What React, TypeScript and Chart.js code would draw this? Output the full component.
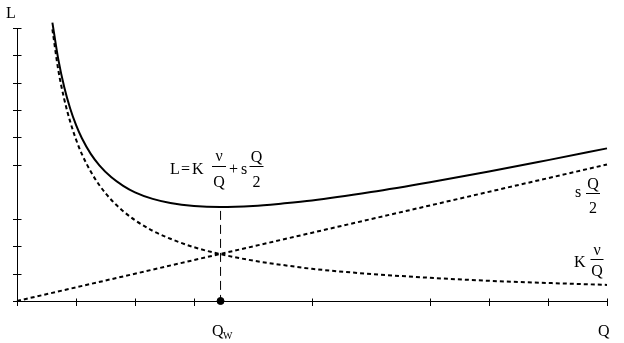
import React, { useEffect, useRef } from 'react';
import { Chart, registerables } from 'chart.js';

Chart.register(...registerables);

// Order quantity Q (x axis, arbitrary units 0..10)
const quantities = [0.6, 0.7, 0.8, 0.9, 1.0, 1.1, 1.25, 1.4, 1.6, 1.8, 2.0, 2.3, 2.6, 3.0, 3.44, 4.0, 4.5, 5.0, 6.0, 7.0, 8.0, 9.0, 10.0];
// K·ν/Q  (ordering cost, dotted hyperbola)
const orderingCost = [9.95, 8.46, 7.4, 6.58, 5.92, 5.38, 4.74, 4.23, 3.7, 3.29, 2.96, 2.57, 2.28, 1.97, 1.72, 1.48, 1.32, 1.18, 0.99, 0.85, 0.74, 0.66, 0.59];
// L = K·ν/Q + s·Q/2 (total cost, solid)
const totalCost = [10.2, 8.85, 7.84, 7.06, 6.45, 5.96, 5.39, 4.96, 4.53, 4.22, 3.98, 3.74, 3.59, 3.48, 3.44, 3.48, 3.57, 3.68, 3.99, 4.35, 4.74, 5.16, 5.59];
// s·Q/2 (holding cost, dotted straight line)
const holdingQ = [0, 10];
const holdingCost = [0, 5];
// optimum order quantity Q_w
const optimumQ = [3.45, 3.45];
const optimumGuide = [3.3, 0];
// axis tick values
const xTickValues = [0, 1, 2, 3, 5, 7, 8, 9, 10];
const yTickValues = [0, 1, 2, 3, 5, 6, 7, 8, 9, 10];

const SERIF = '"Liberation Serif", "DejaVu Serif", serif';

const axesPlugin = {
  id: 'eoqAxes',
  beforeDatasetsDraw(chart: any) {
    const { ctx, scales } = chart;
    const xs = scales.x;
    const ys = scales.y;
    const x0 = Math.round(xs.getPixelForValue(0)) + 0.5;
    const x1 = xs.getPixelForValue(10);
    const y0 = Math.round(ys.getPixelForValue(0)) + 0.5;
    const y1 = ys.getPixelForValue(10);
    ctx.save();
    ctx.strokeStyle = '#000';
    ctx.lineWidth = 1;
    ctx.beginPath();
    ctx.moveTo(x0, y0);
    ctx.lineTo(x1, y0);
    ctx.moveTo(x0, y0);
    ctx.lineTo(x0, y1);
    for (const v of xTickValues) {
      const px = Math.round(xs.getPixelForValue(v)) + 0.5;
      ctx.moveTo(px, y0 - 3);
      ctx.lineTo(px, y0 + 4.5);
    }
    for (const v of yTickValues) {
      const py = Math.round(ys.getPixelForValue(v)) + 0.5;
      ctx.moveTo(x0 - 4.5, py);
      ctx.lineTo(x0 + (v === 0 ? 0 : 4), py);
    }
    ctx.stroke();
    ctx.restore();
  },
};

function fraction(ctx: CanvasRenderingContext2D, top: string, bottom: string, cx: number, barY: number, half: number, topBase: number, botBase: number) {
  ctx.textAlign = 'center';
  ctx.fillText(top, cx, topBase);
  ctx.fillText(bottom, cx, botBase);
  ctx.beginPath();
  ctx.moveTo(cx - half, barY + 0.5);
  ctx.lineTo(cx + half, barY + 0.5);
  ctx.stroke();
  ctx.textAlign = 'left';
}

const labelsPlugin = {
  id: 'eoqLabels',
  afterDraw(chart: any) {
    const { ctx } = chart;
    ctx.save();
    ctx.fillStyle = '#000';
    ctx.strokeStyle = '#000';
    ctx.lineWidth = 1;
    ctx.textBaseline = 'alphabetic';
    ctx.textAlign = 'left';
    ctx.font = `16px ${SERIF}`;
    // axis titles
    ctx.fillText('L', 6, 18);
    ctx.fillText('Q', 598, 336);
    ctx.fillText('Q', 212, 336);
    ctx.font = `10px ${SERIF}`;
    ctx.fillText('W', 223, 339);
    // main formula
    ctx.font = `16px ${SERIF}`;
    ctx.fillText('L', 170, 174);
    ctx.fillText('=', 181, 174);
    ctx.fillText('K', 192, 174);
    fraction(ctx, 'ν', 'Q', 219, 166, 7, 161, 187);
    ctx.fillText('+', 229, 174);
    ctx.fillText('s', 241, 174);
    fraction(ctx, 'Q', '2', 256.5, 166, 7, 162, 187);
    // s Q/2 label
    ctx.fillText('s', 575, 197);
    fraction(ctx, 'Q', '2', 593, 193, 7, 189, 213);
    // K ν/Q label
    ctx.fillText('K', 574, 267);
    fraction(ctx, 'ν', 'Q', 597, 259, 6.5, 255, 276);
    ctx.restore();
  },
};

export default function App() {
  const canvasRef = useRef<HTMLCanvasElement | null>(null);

  useEffect(() => {
    const canvas = canvasRef.current;
    if (!canvas) return;
    const pts = (xs: number[], ys: number[]) => xs.map((x, i) => ({ x, y: ys[i] }));
    const chart = new Chart(canvas, {
      type: 'line',
      data: {
        datasets: [
          {
            label: 'L',
            data: pts(quantities, totalCost),
            borderColor: '#000',
            borderWidth: 2,
            pointRadius: 0,
            cubicInterpolationMode: 'monotone',
            clip: false,
          } as any,
          {
            label: 'Kν/Q',
            data: pts(quantities, orderingCost),
            borderColor: '#000',
            borderWidth: 2,
            borderDash: [4, 3],
            pointRadius: 0,
            cubicInterpolationMode: 'monotone',
            clip: false,
          } as any,
          {
            label: 'sQ/2',
            data: pts(holdingQ, holdingCost),
            borderColor: '#000',
            borderWidth: 2,
            borderDash: [4, 3],
            pointRadius: 0,
            clip: false,
          } as any,
          {
            label: 'Qw guide',
            data: pts(optimumQ, optimumGuide),
            borderColor: '#000',
            borderWidth: 1,
            borderDash: [9, 5],
            pointRadius: [0, 3.5],
            pointBackgroundColor: '#000',
            pointBorderColor: '#000',
            clip: false,
          } as any,
        ],
      },
      options: {
        animation: false,
        responsive: false,
        devicePixelRatio: 1,
        layout: { padding: { left: 17, right: 17, top: 28, bottom: 42 } },
        plugins: {
          legend: { display: false },
          tooltip: { enabled: false },
          title: { display: false },
        },
        events: [],
        scales: {
          x: { type: 'linear', min: 0, max: 10, display: false },
          y: { type: 'linear', min: 0, max: 10, display: false },
        },
      },
      plugins: [axesPlugin, labelsPlugin],
    });
    return () => chart.destroy();
  }, []);

  return (
    <div style={{ position: 'absolute', left: 0, top: 0, width: 624, height: 343, background: '#fff' }}>
      <canvas ref={canvasRef} width={624} height={343} style={{ display: 'block' }} />
    </div>
  );
}
